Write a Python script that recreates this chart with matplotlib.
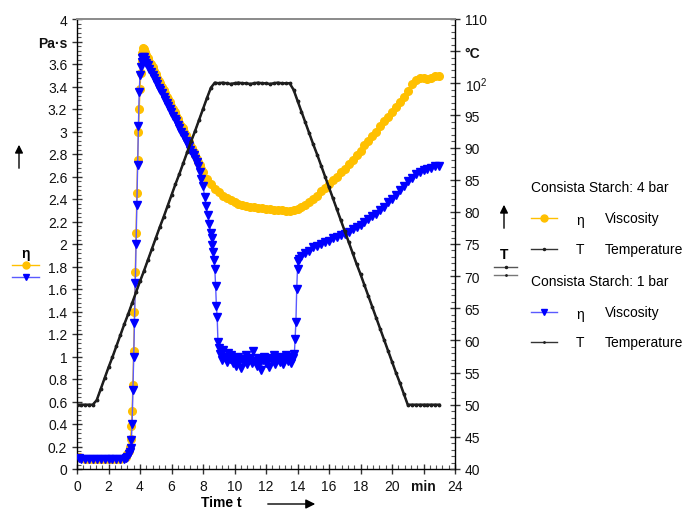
import numpy as np
import matplotlib
matplotlib.use('Agg')
import matplotlib.pyplot as plt
from matplotlib.lines import Line2D
from matplotlib.patches import FancyArrowPatch
from matplotlib.ticker import MultipleLocator

plt.rcParams['font.family'] = ['Liberation Sans', 'DejaVu Sans']
plt.rcParams['mathtext.fontset'] = 'custom'
plt.rcParams['mathtext.rm'] = 'Liberation Sans'

# ---- data ----
# shared sampling before/through the swelling peak (min)
time_base = [0.1, 0.25, 0.5, 0.75, 1.0, 1.25, 1.5, 1.75, 2.0, 2.25, 2.5, 2.75, 3.0]
time_rise = [3.1, 3.2, 3.3, 3.35, 3.4, 3.45, 3.5, 3.55, 3.6, 3.65, 3.7, 3.75, 3.8,
             3.85, 3.9, 3.95, 4.0, 4.05, 4.1, 4.15, 4.2, 4.25, 4.3]
time_fall = np.arange(4.4, 8.01, 0.1)

# Consista Starch 4 bar, viscosity (Pa·s)
eta4_base = [0.11, 0.10, 0.09, 0.09, 0.09, 0.09, 0.09, 0.09, 0.09, 0.09, 0.09, 0.09, 0.10]
eta4_rise = [0.11, 0.13, 0.16, 0.20, 0.27, 0.38, 0.52, 0.75, 1.05, 1.40, 1.75, 2.10, 2.45,
             2.75, 3.00, 3.20, 3.38, 3.52, 3.63, 3.70, 3.74, 3.73, 3.71]
eta4_fall = [3.68, 3.65, 3.62, 3.60, 3.57, 3.54, 3.51, 3.48, 3.45, 3.43,
             3.40, 3.37, 3.34, 3.31, 3.29, 3.26, 3.23, 3.20, 3.17, 3.14,
             3.11, 3.08, 3.05, 3.03, 3.00, 2.97, 2.94, 2.91, 2.88, 2.85,
             2.82, 2.79, 2.76, 2.73, 2.70, 2.67, 2.64]
time4_tail = np.arange(8.25, 23.01, 0.25)
eta4_tail = [2.58, 2.53, 2.49, 2.46, 2.43,
             2.41, 2.39, 2.37, 2.36, 2.35, 2.34, 2.33, 2.33, 2.32, 2.32,
             2.31, 2.31, 2.30, 2.30, 2.30, 2.29, 2.29, 2.30, 2.31, 2.33,
             2.35, 2.37, 2.40, 2.43, 2.47, 2.50, 2.53, 2.57, 2.60, 2.64,
             2.67, 2.71, 2.75, 2.79, 2.83, 2.88, 2.92, 2.96, 3.00, 3.05,
             3.09, 3.13, 3.17, 3.22, 3.26, 3.31, 3.36, 3.42, 3.46, 3.48,
             3.48, 3.47, 3.48, 3.49, 3.49]

# Consista Starch 1 bar, viscosity (Pa·s)
eta1_base = [0.10, 0.09, 0.09, 0.09, 0.09, 0.09, 0.09, 0.09, 0.09, 0.09, 0.09, 0.09, 0.09]
eta1_rise = [0.10, 0.11, 0.13, 0.15, 0.19, 0.26, 0.40, 0.70, 1.00, 1.30, 1.65, 2.00, 2.35,
             2.70, 3.05, 3.35, 3.50, 3.57, 3.62, 3.65, 3.66, 3.66, 3.64]
eta1_fall = [3.61, 3.59, 3.56, 3.53, 3.50, 3.48, 3.45, 3.42, 3.39, 3.37,
             3.34, 3.31, 3.28, 3.25, 3.23, 3.20, 3.17, 3.14, 3.11, 3.09,
             3.06, 3.03, 3.00, 2.97, 2.95, 2.92, 2.90, 2.87, 2.84, 2.81,
             2.79, 2.76, 2.73, 2.69, 2.64, 2.58, 2.52]
time1_drop = [8.1, 8.2, 8.3, 8.4, 8.5, 8.55, 8.6, 8.65, 8.7, 8.75, 8.8, 8.85, 8.9, 8.95]
eta1_drop = [2.42, 2.34, 2.26, 2.18, 2.10, 2.05, 1.99, 1.93, 1.86, 1.78, 1.63, 1.45, 1.35, 1.13]
time1_noise = np.arange(9.0, 13.81, 0.1)
eta1_noise = [1.08, 1.02, 0.97, 1.06, 1.00, 0.95, 1.03, 0.98, 1.01, 0.94,
              0.99, 0.92, 1.00, 0.96, 0.90, 0.98, 0.95, 1.01, 0.93, 0.97,
              0.99, 0.94, 1.05, 0.96, 0.92, 0.99, 0.95, 0.88, 0.97, 1.00,
              0.94, 0.98, 0.91, 0.99, 0.96, 1.01, 0.93, 0.97, 1.00, 0.95,
              0.99, 0.93, 0.98, 1.01, 0.96, 1.00, 0.94, 0.99, 1.02]
time1_jump = [13.85, 13.9, 13.95, 14.0, 14.05, 14.1]
eta1_jump = [1.16, 1.31, 1.60, 1.78, 1.85, 1.87]
time1_tail = np.arange(14.25, 23.01, 0.25)
eta1_tail = [1.89, 1.92, 1.94, 1.97, 1.98, 2.00, 2.02, 2.03, 2.05, 2.06,
             2.08, 2.09, 2.11, 2.13, 2.15, 2.17, 2.20, 2.22, 2.25, 2.27,
             2.30, 2.33, 2.37, 2.40, 2.44, 2.48, 2.52, 2.56, 2.59, 2.62,
             2.64, 2.66, 2.67, 2.68, 2.69, 2.69]

# temperature profile (°C), same for both runs
time_temp = np.arange(0.0, 23.01, 0.25)
temp = [50, 50, 50, 50, 50, 50.7, 52.4, 54.1, 55.8, 57.4,
        59.1, 60.8, 62.5, 64.1, 65.8, 67.5, 69.2, 70.8, 72.5, 74.2,
        75.9, 77.6, 79.2, 80.9, 82.6, 84.3, 85.9, 87.6, 89.3, 91.0,
        92.6, 94.3, 96.0, 97.7, 99.3, 100.1, 100.0, 100.1, 100.0, 99.9,
        100.0, 100.1, 100.0, 100.0, 99.9, 100.0, 100.1, 100.0, 100.0, 99.9,
        100.0, 100.1, 100.0, 100.0, 100.0, 99.0, 97.3, 95.6, 93.9, 92.2,
        90.5, 88.9, 87.2, 85.5, 83.8, 82.1, 80.4, 78.7, 77.0, 75.3,
        73.6, 71.9, 70.3, 68.6, 66.9, 65.2, 63.5, 61.8, 60.1, 58.4,
        56.7, 55.0, 53.4, 51.7, 50.0, 50, 50, 50, 50, 50, 50, 50, 50]

time_4bar = np.concatenate([time_base, time_rise, time_fall, time4_tail])
eta_4bar = np.concatenate([eta4_base, eta4_rise, eta4_fall, eta4_tail])
time_1bar = np.concatenate([time_base, time_rise, time_fall, time1_drop,
                            time1_noise, time1_jump, time1_tail])
eta_1bar = np.concatenate([eta1_base, eta1_rise, eta1_fall, eta1_drop,
                           eta1_noise, eta1_jump, eta1_tail])

ORANGE = '#FFC000'
BLUE = '#0000FF'
BLUE_LINE = '#5a5aff'
BLACK = '#1e1e1e'

W, H = 686, 510
def fx(x):
    return x / W
def fy(y):
    return 1 - y / H

fig = plt.figure(figsize=(W / 100, H / 100), dpi=100)
ax = fig.add_axes([fx(77), fy(470), (455 - 77) / W, (470 - 20) / H])
ax2 = ax.twinx()

ax.plot(time_4bar, eta_4bar, color=ORANGE, lw=1, marker='o', ms=5.5,
        mfc=ORANGE, mec=ORANGE, zorder=2)
ax.plot(time_1bar, eta_1bar, color=BLUE_LINE, lw=1, marker='v', ms=5.5,
        mfc=BLUE, mec=BLUE, zorder=3)
ax2.plot(time_temp, temp, color=BLACK, lw=1.8, marker='.', ms=3.5)
ax2.plot(time_temp, temp, color=BLACK, lw=1.0, marker='.', ms=2)

ax.set_xlim(0, 24)
ax.set_ylim(0, 4)
ax2.set_ylim(40, 110)

xt = list(range(0, 25, 2))
ax.set_xticks(xt, ['min' if v == 22 else str(v) for v in xt])
yt = np.arange(0, 4.01, 0.2)
ax.set_yticks(yt, ['Pa·s' if abs(v - 3.8) < 1e-6 else f'{round(v, 1):g}' for v in yt])
tt = list(range(40, 111, 5))
tlabels = []
for v in tt:
    if v == 100:
        tlabels.append(r'$\mathregular{10^2}$')
    elif v == 105:
        tlabels.append('°C')
    else:
        tlabels.append(str(v))
ax2.set_yticks(tt, tlabels)

ax.xaxis.set_minor_locator(MultipleLocator(0.4))
ax.yaxis.set_minor_locator(MultipleLocator(0.04))
ax2.yaxis.set_minor_locator(MultipleLocator(1))

for a in (ax, ax2):
    a.tick_params(which='major', direction='inout', length=7, width=1,
                  color='#333333', labelsize=10, labelcolor='#111111')
    a.tick_params(which='minor', direction='in', length=3, width=0.8, color='#555555')
    for s in a.spines.values():
        s.set_linewidth(1)
    a.spines['top'].set_color('#8c8c8c')
    a.spines['top'].set_linewidth(1.3)
ax.spines['right'].set_visible(False)
ax2.spines['left'].set_visible(False)
ax2.spines['bottom'].set_visible(False)

for lab in ax.get_xticklabels() + ax.get_yticklabels() + ax2.get_yticklabels():
    if lab.get_text() in ('min', 'Pa·s', '°C'):
        lab.set_fontweight('bold')

# axis captions with arrows
fig.text(fx(221), fy(503), 'Time t', ha='center', va='center',
         fontsize=10, fontweight='bold')
fig.add_artist(FancyArrowPatch((fx(265), fy(505)), (fx(318), fy(505)),
                               transform=fig.transFigure, arrowstyle='-|>',
                               mutation_scale=14, color='black', lw=1))
fig.add_artist(FancyArrowPatch((fx(19), fy(172)), (fx(19), fy(143)),
                               transform=fig.transFigure, arrowstyle='-|>',
                               mutation_scale=12, color='black', lw=1))
fig.add_artist(FancyArrowPatch((fx(504), fy(232)), (fx(504), fy(203)),
                               transform=fig.transFigure, arrowstyle='-|>',
                               mutation_scale=12, color='black', lw=1))

def key(x0, x1, y, color, marker, ms, mcolor, lw=1):
    fig.add_artist(Line2D([fx(x0), fx(x1)], [fy(y), fy(y)], color=color, lw=lw))
    fig.add_artist(Line2D([fx((x0 + x1) / 2)], [fy(y)], marker=marker, ms=ms,
                          color=mcolor, mec=mcolor, lw=0))

# left mini legend
fig.text(fx(25), fy(254), 'η', ha='center', va='center', fontsize=10, fontweight='bold')
key(12, 39, 266, ORANGE, 'o', 5, ORANGE)
key(12, 39, 278, BLUE_LINE, 'v', 5, BLUE)

# right mini legend
fig.text(fx(504), fy(255), 'T', ha='center', va='center', fontsize=10, fontweight='bold')
key(494, 517, 268, '#555555', '.', 3, BLACK)
key(494, 517, 276, '#777777', '.', 2, BLACK)

# main legend
fig.text(fx(531), fy(188), 'Consista Starch: 4 bar', ha='left', va='center', fontsize=10)
key(531, 557, 219, ORANGE, 'o', 5, ORANGE)
fig.text(fx(580), fy(221), 'η', ha='center', va='center', fontsize=10)
fig.text(fx(605), fy(219), 'Viscosity', ha='left', va='center', fontsize=10)
key(531, 557, 250, '#333333', '.', 3, BLACK)
fig.text(fx(580), fy(250), 'T', ha='center', va='center', fontsize=10)
fig.text(fx(605), fy(250), 'Temperature', ha='left', va='center', fontsize=10)

fig.text(fx(531), fy(282), 'Consista Starch: 1 bar', ha='left', va='center', fontsize=10)
key(531, 557, 313, BLUE_LINE, 'v', 5, BLUE)
fig.text(fx(580), fy(315), 'η', ha='center', va='center', fontsize=10)
fig.text(fx(605), fy(313), 'Viscosity', ha='left', va='center', fontsize=10)
key(531, 557, 343, '#333333', '.', 2, BLACK)
fig.text(fx(580), fy(343), 'T', ha='center', va='center', fontsize=10)
fig.text(fx(605), fy(343), 'Temperature', ha='left', va='center', fontsize=10)

fig.savefig('out.png', dpi=100)
